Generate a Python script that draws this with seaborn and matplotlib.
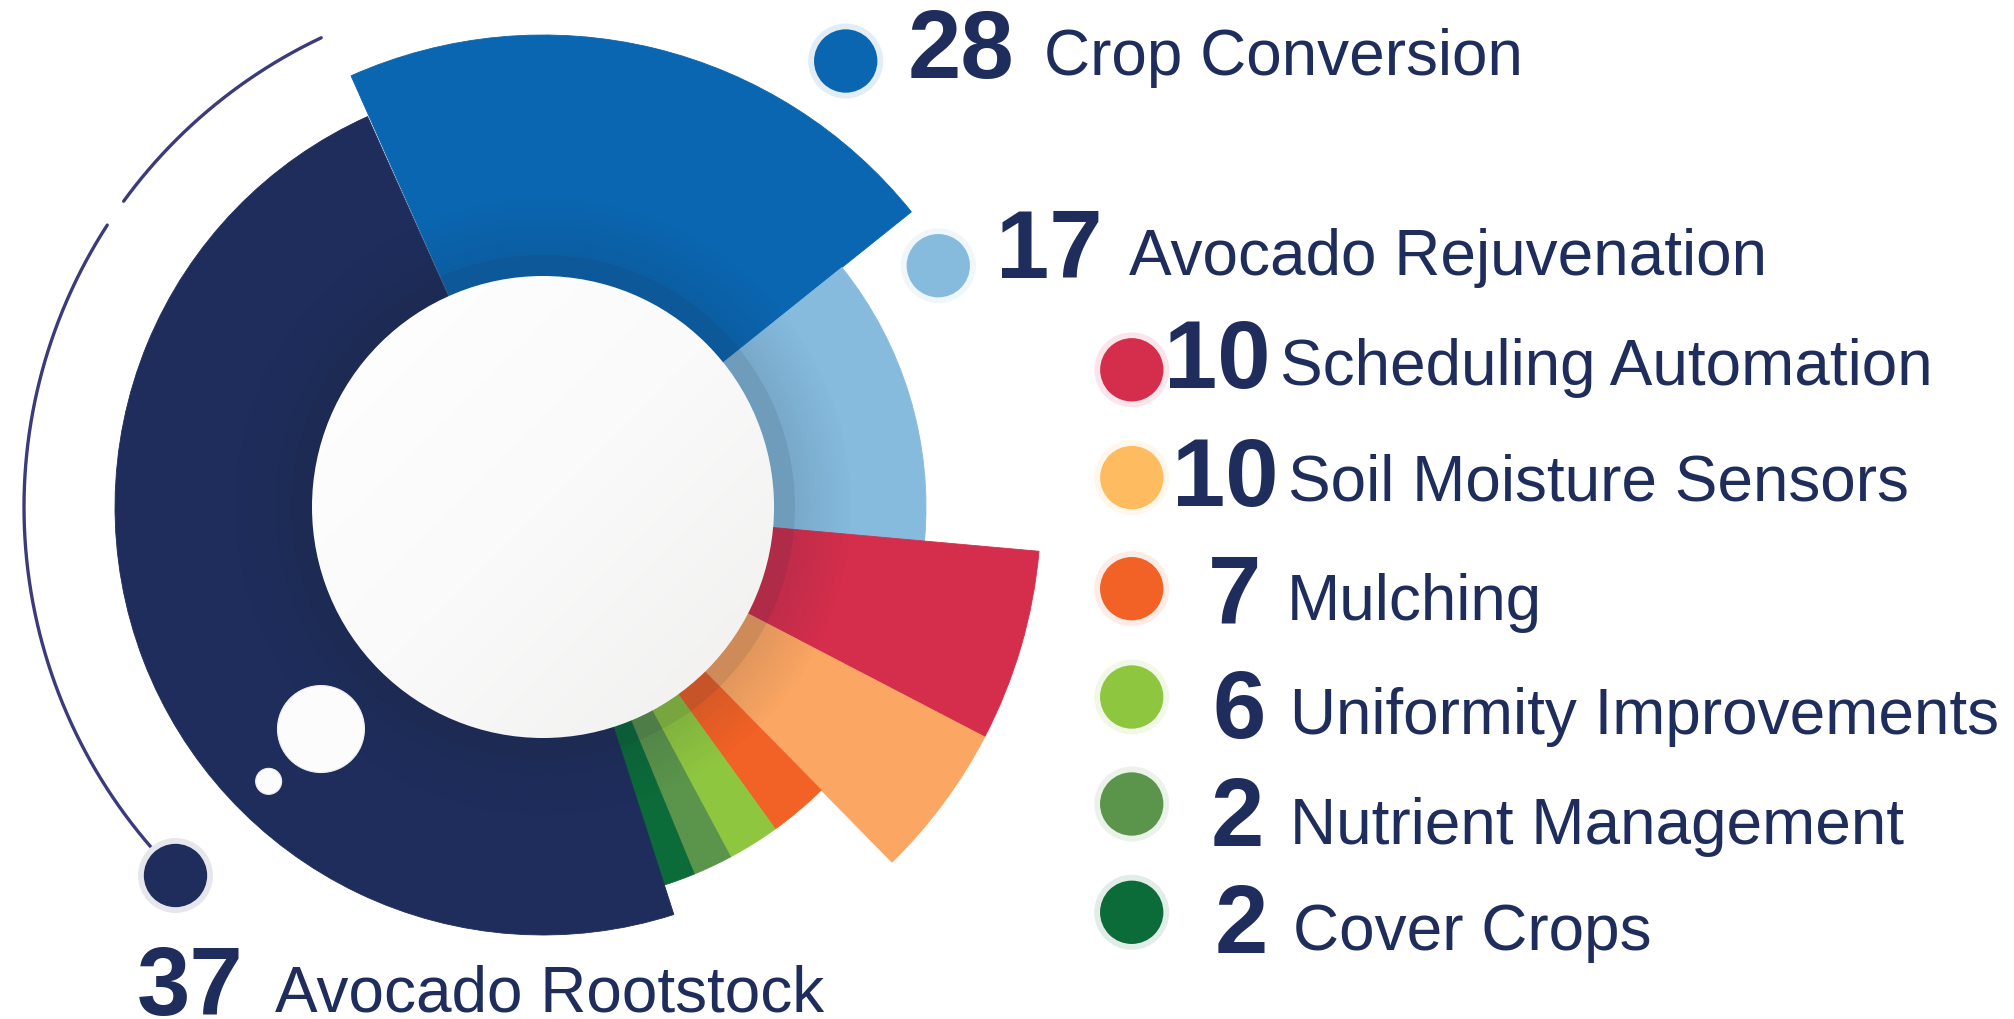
import numpy as np
import pandas as pd
import matplotlib.pyplot as plt
import seaborn as sns
from matplotlib.colors import LinearSegmentedColormap, to_rgb
from matplotlib.patches import Circle

# Dati
labels = ['Crop Conversion', 'Avocado Rejuvenation', 'Scheduling Automation',
          'Soil Moisture Sensors', 'Mulching', 'Uniformity Improvements',
          'Nutrient Management', 'Cover Crops', 'Avocado Rootstock']
values = [28, 17, 10, 10, 7, 6, 2, 2, 37]
colors = ['#0a66b0', '#86bbde', '#d52e4c', '#fba662', '#f26125',
          '#8fc640', '#5b944b', '#0b6b39', '#1e2d5b']
dot_colors = ['#0a66b0', '#86bbde', '#d52e4c', '#ffbb5f', '#f26125',
              '#8fc640', '#5b944b', '#0b6b39', '#1e2d5b']

# geometria dei settori (gradi in senso orario, raggio in px)
spans = [75.3, 43.8, 22.4, 18.0, 8.7, 7.6, 5.8, 4.6, 173.6]
radii = [472, 383, 498, 498, 397, 397, 397, 397, 428]
start_angle = 114.0

text_color = '#1e2d5b'
W, H = 2014, 1019
cx, cy = 543, 507       # centro in px (y dall'alto)
R = 560                 # raggio massimo asse polare

sns.set_theme(style='white')
plt.rcParams['font.family'] = ['Liberation Sans', 'DejaVu Sans']

fig = plt.figure(figsize=(W / 100, H / 100), dpi=100)
fig.patch.set_facecolor('white')

# 1. settori polari
ax = fig.add_axes([(cx - R) / W, (H - cy - R) / H, 2 * R / W, 2 * R / H],
                  projection='polar')
ax.set_ylim(0, R)
ax.set_axis_off()

spans_arr = np.array(spans)
ends = start_angle - np.cumsum(spans_arr)
centers = ends + spans_arr / 2
ax.bar(np.deg2rad(centers), radii, width=np.deg2rad(spans_arr), bottom=0,
       color=colors, edgecolor=colors, linewidth=0.6, zorder=2)

# anello d'ombra attorno al cerchio bianco
ax.bar(0, 21, width=2 * np.pi, bottom=231, color='#1a2238', alpha=0.2,
       linewidth=0, zorder=3)
n_steps = 14
for i in range(n_steps):
    ax.bar(0, 4, width=2 * np.pi, bottom=252 + 4 * i, color='#1a2238',
           alpha=0.11 * (1 - i / n_steps), linewidth=0, zorder=3)

# arco decorativo a sinistra
for a0, a1 in [(115.3, 143.9), (147.1, 225.0)]:
    th = np.deg2rad(np.linspace(a0, a1, 200))
    ax.plot(th, np.full_like(th, 519), color='#3b3b7c', lw=2.4,
            solid_capstyle='round', zorder=4, clip_on=False)

# bollicine bianche
ax.scatter(np.deg2rad([225, 225]), [314, 388], s=[3920, 350], color='#fcfcfc',
           edgecolor='#ededed', linewidth=0.8, zorder=5)

# pallino Avocado Rootstock
ax.scatter([np.deg2rad(225)], [521], s=2916, color='#e6e7ec', zorder=5,
           clip_on=False, linewidth=0)
ax.scatter([np.deg2rad(225)], [521], s=2080, color=dot_colors[-1], zorder=6,
           clip_on=False, linewidth=0)

# 2. cerchio bianco centrale con leggero gradiente
rc = 231
ax_c = fig.add_axes([(cx - rc) / W, (H - cy - rc) / H, 2 * rc / W, 2 * rc / H])
ax_c.set_axis_off()
gx, gy = np.meshgrid(np.linspace(0, 1, 300), np.linspace(0, 1, 300))
grad = (gx + gy) / 2
cmap = LinearSegmentedColormap.from_list('bianco', ['#ffffff', '#fafafa', '#f0efee'])
im = ax_c.imshow(grad, extent=(-1, 1, -1, 1), cmap=cmap, origin='upper',
                 aspect='auto')
ax_c.set_xlim(-1, 1)
ax_c.set_ylim(-1, 1)
im.set_clip_path(Circle((0, 0), 1, transform=ax_c.transData))

# 3. legenda (coordinate px)
ax_o = fig.add_axes([0, 0, 1, 1])
ax_o.set_facecolor('none')

dot_xy = [(845.7, 61), (938.3, 265.7), (1131.8, 369.8), (1131.8, 477.6),
          (1131.7, 588.7), (1131.7, 697), (1131.7, 804), (1131.7, 912.3)]
number_xy = [(908, 78), (996, 278), (1164, 388), (1172, 505.8),
             (1208, 623.2), (1212, 737.7), (1211, 846.4), (1215, 953),
             (137, 1015)]
name_xy = [(1044, 75), (1129, 275.3), (1280, 384.7), (1288, 500.8),
           (1287, 619.9), (1290, 734.4), (1290, 844.4), (1293, 950.3),
           (275, 1012)]

legend_df = pd.DataFrame({
    'x': [p[0] for p in dot_xy],
    'y': [p[1] for p in dot_xy],
    'label': labels[:8],
})
halo = [tuple(0.88 * np.ones(3) + 0.12 * np.array(to_rgb(c))) for c in dot_colors[:8]]
sns.scatterplot(data=legend_df, x='x', y='y', hue='label',
                palette=dict(zip(labels[:8], halo)), s=2916, linewidth=0,
                legend=False, ax=ax_o)
sns.scatterplot(data=legend_df, x='x', y='y', hue='label',
                palette=dict(zip(labels[:8], dot_colors[:8])), s=2080,
                linewidth=0, legend=False, ax=ax_o)
ax_o.set_xlim(0, W)
ax_o.set_ylim(H, 0)
ax_o.set_axis_off()

for v, lab, (nx, ny), (tx, ty) in zip(values, labels, number_xy, name_xy):
    ax_o.text(nx, ny, str(v), fontsize=69, fontweight='bold', color=text_color,
              ha='left', va='baseline')
    ax_o.text(tx, ty, lab, fontsize=46, color=text_color, ha='left',
              va='baseline')

fig.savefig('out.png', dpi=100, facecolor='white')
